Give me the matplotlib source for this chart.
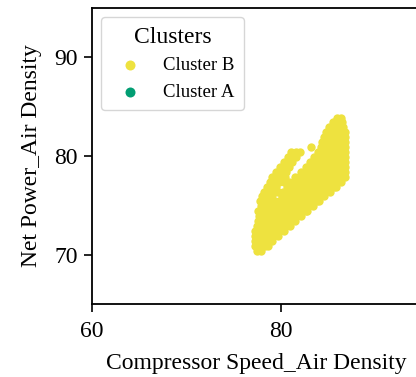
import numpy as np
import matplotlib.pyplot as plt

plt.rcParams['font.family'] = ['Liberation Serif', 'DejaVu Serif']

# Cluster B (y level -> x positions)
row_y = [70.4, 70.9, 71.4, 71.9, 72.4, 72.9, 73.4, 73.9, 74.4, 74.9,
         75.4, 75.9, 76.4, 76.9, 77.4, 77.9, 78.4, 78.9, 79.4, 79.9,
         80.4, 80.9, 81.4, 81.9, 82.4, 82.9, 83.4, 83.9]
row_x = [
    [77.5, 77.9],
    [77.3, 77.8, 78.3, 78.6],
    [77.2, 77.7, 78.2, 78.7, 79.1],
    [77.2, 77.7, 78.2, 78.7, 79.2, 79.7],
    [77.3, 77.8, 78.3, 78.8, 79.3, 79.8, 80.3],
    [77.5, 78.0, 78.5, 79.0, 79.5, 80.0, 80.5, 80.9],
    [77.6, 78.1, 78.6, 79.1, 79.6, 80.1, 80.6, 81.1, 81.5],
    [77.7, 78.2, 78.7, 79.2, 79.7, 80.2, 80.7, 81.2, 81.7, 82.1],
    [77.6, 78.1, 78.6, 79.1, 79.6, 80.1, 80.6, 81.1, 81.6, 82.1, 82.6, 82.8],
    [77.9, 78.4, 78.9, 79.4, 79.9, 80.4, 80.9, 81.4, 81.9, 82.4, 82.9, 83.4],
    [77.8, 78.3, 78.8, 79.3, 79.8, 80.3, 80.8, 81.3, 81.8, 82.3, 82.8, 83.3, 83.8, 84.0],
    [78.0, 78.5, 79.0, 80.1, 80.6, 81.1, 81.6, 82.1, 82.6, 83.1, 83.6, 84.1, 84.6],
    [78.2, 78.7, 79.2, 79.7, 80.2, 80.7, 81.2, 81.7, 82.2, 82.7, 83.2, 83.7, 84.2, 84.7, 85.2],
    [78.5, 79.0, 79.5, 80.6, 81.1, 81.6, 82.1, 82.6, 83.1, 83.6, 84.1, 84.6, 85.1, 85.6, 85.8],
    [78.8, 79.3, 79.8, 80.3, 80.8, 81.3, 81.8, 82.3, 82.8, 83.3, 83.8, 84.3, 84.8, 85.3, 85.8, 86.4],
    [79.1, 79.6, 80.1, 80.4, 81.5, 81.9, 82.3, 82.8, 83.3, 83.8, 84.3, 84.8, 85.3, 85.8, 86.3, 86.8],
    [79.5, 80.0, 80.5, 82.1, 82.5, 83.0, 83.5, 84.0, 84.5, 85.0, 85.5, 86.0, 86.5, 86.8],
    [79.9, 80.4, 80.8, 82.6, 83.0, 83.5, 84.0, 84.5, 85.0, 85.5, 86.0, 86.5, 86.8],
    [80.3, 80.8, 81.2, 83.1, 83.5, 84.0, 84.5, 85.0, 85.5, 86.0, 86.5, 86.8],
    [80.7, 81.2, 81.6, 83.5, 83.9, 84.4, 84.9, 85.4, 85.9, 86.4, 86.8],
    [81.1, 81.6, 82.0, 83.9, 84.3, 84.8, 85.3, 85.8, 86.3, 86.8],
    [83.2, 84.2, 84.6, 85.1, 85.6, 86.1, 86.6, 86.8],
    [84.3, 84.8, 85.3, 85.8, 86.3, 86.8],
    [84.5, 85.0, 85.5, 86.0, 86.5, 86.8],
    [84.8, 85.3, 85.8, 86.3, 86.8],
    [85.1, 85.6, 86.1, 86.6],
    [85.5, 86.0, 86.5],
    [85.9, 86.3],
]

# Cluster A has no points in the visible window
cluster_a_x = []
cluster_a_y = []

cluster_b_x = [x for xs in row_x for x in xs]
cluster_b_y = [y for y, xs in zip(row_y, row_x) for _ in xs]

fig = plt.figure(figsize=(4.16, 3.77), dpi=100)
ax = fig.add_axes([92 / 416, 73 / 377, 378 / 416, 296 / 377])

ax.scatter(cluster_b_x, cluster_b_y, s=36, color='#EEE23F', linewidths=0,
           label='Cluster B')
ax.scatter(cluster_a_x, cluster_a_y, s=36, color='#029E73', linewidths=0,
           label='Cluster A')

ax.set_xlim(60, 100)
ax.set_ylim(65, 95)
ax.set_xticks([60, 80])
ax.set_yticks([70, 80, 90])
ax.tick_params(labelsize=17, length=6, width=1.2, pad=4)
ax.tick_params(axis='x', pad=6)
for sp in ax.spines.values():
    sp.set_linewidth(1.3)

ax.set_xlabel('Compressor Speed_Air Density', fontsize=17)
ax.set_ylabel('Net Power_Air Density', fontsize=17)
# axes run past the right edge, so centre the x label on the visible part
ax.xaxis.set_label_coords(0.434, -0.165)
ax.yaxis.set_label_coords(-0.132, 0.5)

leg = ax.legend(title='Clusters', loc='upper left', fontsize=13.5,
                title_fontsize=17, markerscale=1.2, labelspacing=0.5,
                borderpad=0.5)
leg.get_frame().set_edgecolor('#cccccc')

fig.savefig('out.png', dpi=100)
